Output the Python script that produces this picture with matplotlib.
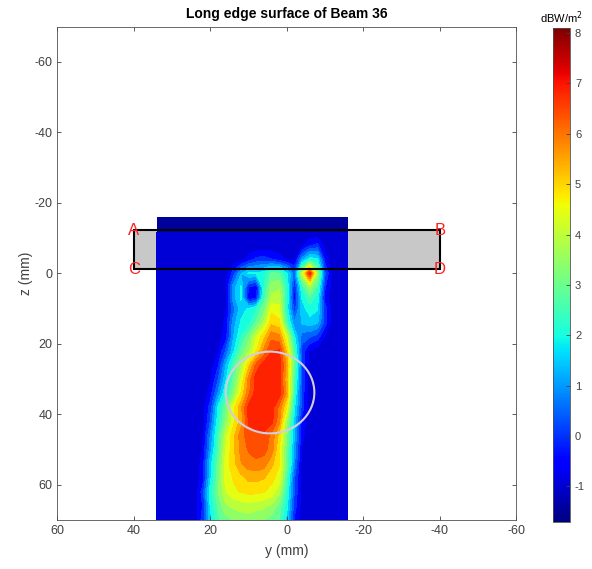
import numpy as np
import matplotlib
matplotlib.use('Agg')
import matplotlib.pyplot as plt
from matplotlib.patches import Rectangle, Ellipse
from matplotlib.colors import Normalize
from matplotlib.cm import ScalarMappable

plt.rcParams['font.family'] = ['Liberation Sans', 'DejaVu Sans']
plt.rcParams['axes.unicode_minus'] = False

# 网格坐标 (mm)
y_mm = [34, 28, 24, 22, 20, 18, 16, 14, 12, 10, 8, 6, 4, 2, 0, -2, -4, -6, -8, -10, -12, -16]
z_mm = [-16, -12.5, -11.5, -8, -4, 0, 4, 7, 10, 14, 18, 22, 26, 30, 34, 38, 42, 46, 50, 54, 58, 62, 66, 70]

# 功率密度 dBW/m^2，行对应 z_mm，列对应 y_mm
power_db = [
    [-1.69] * 22,
    [-1.69] * 22,
    [-1.1] * 22,
    [-1.1, -1.1, -1.1, -1.1, -1.1, -1.1, -1.1, -1.1, -1.1, -1.1, -1.1, -1.1, -1.1, -1.1, -1.1, -1.1, -0.9, -0.3, -0.1, -0.9, -1.1, -1.1],
    [-1.1, -1.1, -1.1, -1.1, -1.1, -1.1, -1.1, -1.1, -1.0, -0.5, -0.1, 0.0, -0.2, -0.5, -0.8, -0.9, 1.0, 2.0, 1.8, -0.5, -1.1, -1.1],
    [-1.1, -1.1, -1.1, -1.1, -1.1, -1.1, -1.0, 0.0, 1.2, 1.8, 1.8, 2.0, 2.8, 2.8, 1.8, 0.5, 4.0, 7.0, 3.5, 0.3, -1.0, -1.1],
    [-1.1, -1.1, -1.1, -1.1, -1.1, -1.1, -0.8, 1.0, 1.8, -0.3, -0.6, 2.2, 3.5, 3.6, 2.2, -0.3, 2.2, 3.5, 2.5, -0.2, -1.0, -1.1],
    [-1.1, -1.1, -1.1, -1.1, -1.1, -1.1, -1.0, 1.0, 1.8, -0.5, -0.3, 2.5, 3.8, 4.0, 2.2, -0.5, 1.8, 2.6, 2.0, -0.5, -1.1, -1.1],
    [-1.1, -1.1, -1.1, -1.1, -1.1, -1.1, -0.8, 0.5, 1.5, 1.8, 2.2, 3.0, 4.5, 4.3, 2.0, 0.0, 1.5, 2.0, 1.8, 0.0, -1.0, -1.1],
    [-1.1, -1.1, -1.1, -1.1, -1.1, -1.1, -0.6, 1.0, 1.8, 2.0, 2.8, 3.8, 5.0, 4.8, 2.5, 0.8, 1.3, 1.5, 1.3, 0.0, -1.0, -1.1],
    [-1.1, -1.1, -1.1, -1.1, -1.1, -1.0, -0.5, 1.2, 2.2, 3.0, 4.2, 5.0, 6.0, 5.8, 4.2, 1.8, 0.5, 0.3, 0.0, -0.8, -1.1, -1.1],
    [-1.1, -1.1, -1.1, -1.1, -1.1, -0.8, 0.3, 1.6, 2.8, 3.6, 4.6, 5.8, 6.6, 6.7, 5.0, 2.5, 0.0, -0.8, -1.0, -1.1, -1.1, -1.1],
    [-1.1, -1.1, -1.1, -1.1, -1.0, -0.3, 1.2, 2.5, 3.6, 5.0, 6.3, 6.9, 7.0, 6.9, 5.5, 2.8, 0.2, -1.0, -1.1, -1.1, -1.1, -1.1],
    [-1.1, -1.1, -1.1, -1.1, -0.8, 0.2, 1.6, 2.8, 4.2, 5.8, 6.9, 7.0, 7.0, 6.9, 5.2, 2.5, 0.2, -1.0, -1.1, -1.1, -1.1, -1.1],
    [-1.1, -1.1, -1.1, -1.1, -0.5, 0.8, 2.2, 3.2, 4.7, 6.0, 6.9, 7.0, 7.0, 6.9, 5.5, 2.2, 0.0, -1.0, -1.1, -1.1, -1.1, -1.1],
    [-1.1, -1.1, -1.1, -1.0, 0.0, 1.8, 3.0, 4.5, 5.5, 6.8, 7.0, 7.0, 6.9, 6.0, 4.6, 1.8, 0.0, -1.0, -1.1, -1.1, -1.1, -1.1],
    [-1.1, -1.1, -1.1, -1.0, 0.3, 2.0, 3.3, 4.5, 5.4, 6.7, 7.0, 7.0, 6.8, 5.8, 3.6, 1.5, -0.5, -1.0, -1.1, -1.1, -1.1, -1.1],
    [-1.1, -1.1, -1.1, -0.8, 0.8, 2.4, 4.0, 5.0, 5.9, 6.4, 6.5, 6.5, 6.0, 5.0, 3.2, 1.2, -0.6, -1.0, -1.1, -1.1, -1.1, -1.1],
    [-1.1, -1.1, -1.1, -0.7, 1.0, 2.6, 4.2, 5.0, 5.8, 6.2, 6.4, 6.3, 5.9, 4.7, 3.0, 1.0, -0.8, -1.1, -1.1, -1.1, -1.1, -1.1],
    [-1.1, -1.1, -1.1, -0.5, 1.5, 2.9, 4.4, 5.0, 5.6, 5.9, 6.0, 5.9, 5.3, 4.7, 3.0, 0.8, -1.0, -1.1, -1.1, -1.1, -1.1, -1.1],
    [-1.1, -1.1, -1.0, -0.5, 1.6, 3.0, 4.4, 4.7, 5.0, 5.3, 5.3, 5.2, 4.8, 4.5, 2.5, 0.3, -1.0, -1.1, -1.1, -1.1, -1.1, -1.1],
    [-1.1, -1.1, -1.0, 0.0, 2.0, 3.2, 4.1, 4.6, 4.7, 4.8, 4.8, 4.7, 4.5, 3.8, 2.2, 0.2, -1.0, -1.1, -1.1, -1.1, -1.1, -1.1],
    [-1.1, -1.1, -1.0, -0.2, 1.8, 2.8, 3.6, 3.8, 3.9, 4.0, 3.9, 3.8, 3.6, 3.0, 1.9, 0.0, -1.0, -1.1, -1.1, -1.1, -1.1, -1.1],
    [-1.1, -1.1, -1.0, 0.0, 1.5, 2.6, 3.0, 3.2, 3.4, 3.4, 3.3, 3.2, 3.0, 2.7, 1.5, -0.3, -1.0, -1.1, -1.1, -1.1, -1.1, -1.1],
]

# 表面矩形 (A B C D) 与圆形标记
rect_y = [40, -40]
rect_z = [-12.3, -1.2]
corner_labels = ['A', 'B', 'C', 'D']
circle_center = (4.4, 33.8)
circle_radius = 11.6

cb_min, cb_max = -1.7, 8.1

fig = plt.figure(figsize=(5.92, 5.69), dpi=100)
ax = fig.add_axes([0.097, 0.086, 0.775, 0.867])

# 灰色矩形在底层
ax.add_patch(Rectangle((rect_y[1], rect_z[0]), rect_y[0] - rect_y[1], rect_z[1] - rect_z[0],
                       facecolor='#c8c8c8', edgecolor='none', zorder=0))

Y, Z = np.meshgrid(y_mm, z_mm)
levels = np.linspace(cb_min, cb_max, 21)
ax.contourf(Y, Z, np.array(power_db), levels=levels, cmap='jet',
            vmin=cb_min, vmax=cb_max, zorder=1)

# 矩形边框
ax.add_patch(Rectangle((rect_y[1], rect_z[0]), rect_y[0] - rect_y[1], rect_z[1] - rect_z[0],
                       facecolor='none', edgecolor='black', linewidth=1.5, zorder=3))

corners = [(rect_y[0], rect_z[0]), (rect_y[1], rect_z[0]),
           (rect_y[0], rect_z[1]), (rect_y[1], rect_z[1])]
for lab, (cy, cz) in zip(corner_labels, corners):
    ax.text(cy, cz, lab, color='#ff2020', fontsize=12, ha='center', va='center', zorder=4)

ax.add_patch(Ellipse(circle_center, 2 * circle_radius, 2 * circle_radius,
                     facecolor='none', edgecolor='#d4cce0', linewidth=1.5, zorder=4))

ax.set_xlim(60, -60)
ax.set_ylim(70, -70)
ax.set_xticks([60, 40, 20, 0, -20, -40, -60])
ax.set_yticks([-60, -40, -20, 0, 20, 40, 60])
ax.tick_params(direction='in', top=True, right=True, labelsize=9, colors='#404040',
               length=3, width=0.6)
for s in ax.spines.values():
    s.set_color('#505050')
    s.set_linewidth(0.6)
ax.set_xlabel('y (mm)', fontsize=10, color='#404040', labelpad=5)
ax.set_ylabel('z (mm)', fontsize=10, color='#404040', labelpad=1)
ax.set_title('Long edge surface of Beam 36', fontsize=10, fontweight='bold', pad=6)

# 色标
cax = fig.add_axes([0.934, 0.083, 0.029, 0.868])
sm = ScalarMappable(norm=Normalize(cb_min, cb_max), cmap='jet')
cb = fig.colorbar(sm, cax=cax, ticks=range(-1, 9))
cb.ax.tick_params(labelsize=8, colors='#404040', direction='in', length=3, width=0.6)
cb.outline.set_edgecolor('#505050')
cb.outline.set_linewidth(0.6)
cax.set_title('dBW/m$^2$', fontsize=8, pad=4)

plt.savefig('out.png', dpi=100)
